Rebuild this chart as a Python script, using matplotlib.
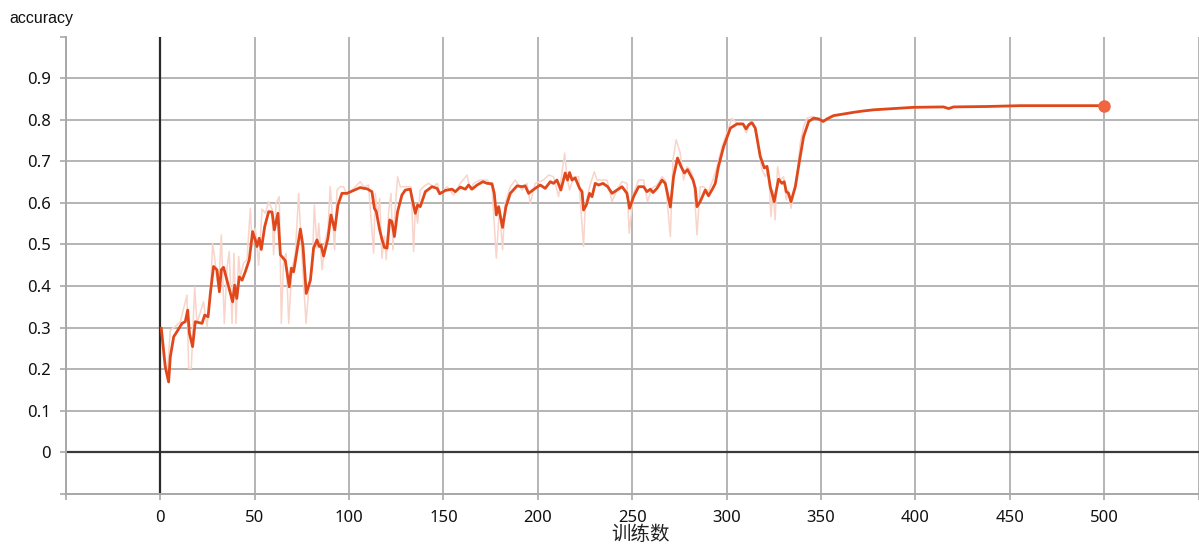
import matplotlib
matplotlib.use("Agg")
import matplotlib.pyplot as plt

# ---- data ----
smooth_steps = [0.5, 2.6, 4.4, 5.3, 7.1, 8.8, 11.5, 13.2, 14.5, 15.4, 17.1, 18.5, 22.1, 23.5, 25.3,
                26.5, 28.2, 30.0, 31.3, 32.3, 33.5, 36.2, 38.3, 39.4, 40.5, 41.8, 43.3, 45.0, 47.1,
                48.9, 50.3, 51.2, 52.4, 53.5, 55.3, 57.4, 59.2, 60.4, 62.3, 63.6, 66.2, 68.3, 69.4,
                70.6, 71.5, 74.2, 75.6, 77.3, 79.5, 81.2, 83.0, 84.2, 85.1, 86.5, 88.8, 90.4, 92.4,
                94.1, 96.2, 98.9, 102.4, 105.9, 107.7, 109.5, 112.1, 113.4, 114.4, 116.2, 117.5,
                118.7, 120.1, 121.5, 122.7, 124.0, 125.7, 128.0, 129.8, 132.4, 133.9, 135.1, 136.3,
                137.7, 140.4, 143.9, 146.6, 148.0, 151.0, 154.5, 156.3, 158.9, 161.6, 163.3, 165.1,
                167.8, 170.9, 173.1, 175.7, 176.9, 178.0, 179.2, 181.3, 183.1, 185.4, 189.0, 191.6,
                193.3, 195.1, 198.6, 201.3, 203.9, 206.6, 208.3, 210.1, 212.2, 214.5, 215.7, 216.8,
                218.1, 219.8, 222.1, 223.4, 224.2, 225.7, 227.4, 228.7, 230.4, 232.2, 234.5, 237.0,
                239.3, 241.9, 244.6, 247.2, 248.6, 250.7, 253.4, 256.0, 257.8, 259.6, 261.0, 263.1,
                265.8, 267.5, 270.2, 271.9, 274.0, 275.8, 277.6, 279.3, 282.2, 283.4, 284.3, 286.0,
                288.7, 290.4, 292.7, 294.0, 295.7, 298.4, 302.0, 305.5, 308.7, 310.3, 311.7, 313.4,
                315.2, 317.8, 320.0, 321.4, 323.1, 325.2, 327.5, 329.3, 330.5, 331.6, 332.8, 334.1,
                336.4, 338.7, 340.8, 343.5, 346.1, 348.8, 351.1, 353.2, 356.7, 362.0, 367.3, 372.0,
                377.8, 384.9, 399.0, 414.9, 417.6, 420.2, 437.9, 455.6, 473.2, 500.0]
smooth_acc = [0.298, 0.206, 0.169, 0.230, 0.278, 0.290, 0.310, 0.314, 0.342, 0.286, 0.254, 0.314, 0.310, 0.330, 0.326,
              0.382, 0.447, 0.439, 0.386, 0.439, 0.445, 0.398, 0.362, 0.402, 0.370, 0.422, 0.414, 0.434, 0.463,
              0.531, 0.511, 0.495, 0.515, 0.488, 0.543, 0.579, 0.578, 0.535, 0.575, 0.475, 0.461, 0.398, 0.443,
              0.434, 0.459, 0.537, 0.495, 0.382, 0.414, 0.491, 0.511, 0.495, 0.499, 0.472, 0.515, 0.571, 0.535,
              0.595, 0.623, 0.623, 0.630, 0.637, 0.635, 0.634, 0.627, 0.587, 0.579, 0.535, 0.511,
              0.493, 0.491, 0.559, 0.555, 0.519, 0.579, 0.619, 0.631, 0.633, 0.599, 0.575, 0.595,
              0.591, 0.627, 0.639, 0.635, 0.622, 0.630, 0.633, 0.627, 0.638, 0.633, 0.643, 0.633,
              0.643, 0.651, 0.647, 0.646, 0.623, 0.571, 0.591, 0.541, 0.591, 0.623, 0.641, 0.639,
              0.641, 0.623, 0.635, 0.643, 0.635, 0.651, 0.647, 0.655, 0.631, 0.672, 0.655, 0.673,
              0.655, 0.660, 0.635, 0.627, 0.583, 0.595, 0.623, 0.615, 0.647, 0.643, 0.647, 0.639,
              0.623, 0.631, 0.639, 0.623, 0.587, 0.615, 0.639, 0.639, 0.627, 0.633, 0.625, 0.635,
              0.655, 0.647, 0.590, 0.663, 0.708, 0.688, 0.672, 0.680, 0.655, 0.635, 0.591, 0.603,
              0.631, 0.617, 0.635, 0.647, 0.688, 0.735, 0.780, 0.790, 0.790, 0.778, 0.788, 0.793,
              0.780, 0.712, 0.684, 0.688, 0.639, 0.603, 0.657, 0.647, 0.651, 0.627, 0.623, 0.603,
              0.639, 0.704, 0.760, 0.796, 0.804, 0.802, 0.796, 0.802, 0.810, 0.814, 0.818, 0.821,
              0.824, 0.826, 0.830, 0.831, 0.827, 0.831, 0.832, 0.834, 0.834, 0.834]

raw_steps = [0.9, 3.5, 5.3, 7.9, 10.6, 14.1, 15.0, 16.4, 18.2, 19.4, 22.9, 24.7, 26.5, 27.7, 28.8, 30.0,
             30.9, 32.3, 33.9, 35.3, 36.5, 38.0, 39.0, 40.1, 41.5, 42.4, 44.1, 45.9, 47.7, 48.6, 50.3,
             52.1, 53.9, 55.6, 57.4, 59.2, 60.0, 61.3, 63.0, 64.1, 65.3, 66.6, 68.0, 69.7, 71.5, 73.3,
             74.7, 75.9, 77.2, 78.6, 80.4, 81.6, 83.0, 83.9, 85.7, 87.4, 88.8, 90.0, 91.3, 92.3, 93.6,
             95.3, 97.1, 98.9, 102.4, 105.9, 107.7, 110.3, 113.0, 113.9, 115.1, 116.2, 117.4, 118.7,
             119.7, 120.9, 122.2, 123.2, 124.5, 125.7, 127.1, 130.7, 132.8, 134.2, 135.1, 136.3, 137.7,
             139.5, 142.1, 144.8, 146.6, 148.3, 151.9, 155.4, 158.9, 162.5, 164.2, 166.0, 169.1, 173.1,
             175.7, 178.0, 179.7, 181.3, 182.7, 185.4, 188.0, 191.6, 194.2, 196.0, 198.6, 203.0, 205.7,
             208.3, 211.0, 214.2, 215.4, 216.8, 218.9, 221.6, 224.2, 225.1, 227.4, 229.9, 231.3, 234.0,
             236.6, 239.3, 242.3, 244.6, 247.2, 248.4, 250.7, 253.4, 256.0, 258.1, 260.4, 263.1, 265.8,
             267.5, 270.2, 271.6, 273.3, 275.4, 277.2, 279.0, 280.7, 282.5, 284.3, 286.0, 287.8, 290.4,
             292.7, 294.9, 297.5, 300.2, 302.8, 305.5, 308.2, 310.5, 312.5, 314.3, 316.4, 318.7, 320.5,
             322.2, 323.5, 324.5, 325.7, 327.0, 328.4, 330.2, 331.6, 332.8, 334.1, 335.8, 337.6, 339.0,
             340.8, 342.6, 345.2, 347.9, 350.5, 353.2, 356.7, 362.0, 367.3, 372.0, 377.8, 384.9, 399.0,
             414.9, 417.6, 420.2, 437.9, 455.6, 473.2, 500.0]
raw_acc = [0.294, 0.178, 0.294, 0.302, 0.314, 0.378, 0.202, 0.202, 0.398, 0.310, 0.362, 0.302, 0.378, 0.503, 0.467, 0.414,
           0.398, 0.523, 0.310, 0.443, 0.483, 0.310, 0.479, 0.310, 0.471, 0.422, 0.455, 0.463, 0.587, 0.495, 0.539,
           0.450, 0.585, 0.575, 0.603, 0.585, 0.475, 0.599, 0.615, 0.310, 0.463, 0.479, 0.310, 0.439, 0.479, 0.623,
           0.495, 0.406, 0.310, 0.390, 0.439, 0.595, 0.491, 0.551, 0.439, 0.511, 0.535, 0.639, 0.559, 0.487, 0.631,
           0.639, 0.639, 0.619, 0.635, 0.651, 0.639, 0.643, 0.479, 0.623, 0.567, 0.611, 0.467, 0.519,
           0.463, 0.575, 0.623, 0.487, 0.591, 0.663, 0.639, 0.639, 0.639, 0.483, 0.591, 0.551, 0.631,
           0.639, 0.647, 0.639, 0.647, 0.623, 0.639, 0.619, 0.647, 0.667, 0.631, 0.647, 0.655, 0.655,
           0.639, 0.467, 0.591, 0.487, 0.599, 0.639, 0.655, 0.631, 0.647, 0.599, 0.647, 0.655, 0.667,
           0.663, 0.615, 0.720, 0.663, 0.631, 0.663, 0.663, 0.495, 0.591, 0.639, 0.675, 0.655, 0.655,
           0.655, 0.603, 0.635, 0.651, 0.647, 0.527, 0.623, 0.655, 0.655, 0.603, 0.635, 0.643, 0.663,
           0.655, 0.519, 0.704, 0.752, 0.720, 0.655, 0.687, 0.680, 0.659, 0.523, 0.639, 0.639, 0.627,
           0.655, 0.687, 0.735, 0.770, 0.804, 0.792, 0.792, 0.768, 0.796, 0.792, 0.744, 0.680, 0.663,
           0.680, 0.567, 0.631, 0.559, 0.687, 0.655, 0.663, 0.607, 0.631, 0.587, 0.631, 0.680, 0.744,
           0.784, 0.804, 0.808, 0.804, 0.796, 0.804, 0.812, 0.814, 0.818, 0.821, 0.824, 0.826, 0.830,
           0.831, 0.827, 0.831, 0.832, 0.834, 0.834, 0.834]

x_ticks = [-50, 0, 50, 100, 150, 200, 250, 300, 350, 400, 450, 500, 550]
x_tick_labels = ["", "0", "50", "100", "150", "200", "250", "300", "350", "400", "450", "500", ""]
y_ticks = [-0.1, 0, 0.1, 0.2, 0.3, 0.4, 0.5, 0.6, 0.7, 0.8, 0.9, 1.0]
y_tick_labels = ["", "0", "0.1", "0.2", "0.3", "0.4", "0.5", "0.6", "0.7", "0.8", "0.9", ""]
y_title = "accuracy"
x_title = "训练数"

# ---- figure ----
plt.rcParams['font.family'] = ['Noto Sans', 'DejaVu Sans']
fig = plt.figure(figsize=(11.99, 5.47), dpi=100)
ax = fig.add_axes([0.055, 0.0974, 0.9446, 0.8355])

ax.set_xlim(-50, 550)
ax.set_ylim(-0.1, 1.0)
ax.set_xticks(x_ticks)
ax.set_xticklabels(x_tick_labels)
ax.set_yticks(y_ticks)
ax.set_yticklabels(y_tick_labels)

ax.grid(True, color='#b4b4b4', linewidth=1.4)
ax.set_axisbelow(True)
# no horizontal grid line along the top edge
ax.yaxis.get_gridlines()[-1].set_visible(False)
ax.axhline(0, color='#3a3a3a', linewidth=1.6, zorder=1.5)
ax.axvline(0, color='#2a2a2a', linewidth=1.6, zorder=1.5)

for s in ['top', 'right']:
    ax.spines[s].set_visible(False)
for s in ['left', 'bottom']:
    ax.spines[s].set_color('#a8a8a8')
    ax.spines[s].set_linewidth(1.4)

ax.tick_params(axis='both', colors='#a8a8a8', length=4, width=1.2, labelcolor='#111111', labelsize=12)
ax.tick_params(axis='x', pad=8)
ax.tick_params(axis='y', pad=7)

ax.plot(raw_steps, raw_acc, color='#f8d4ca', linewidth=1.1, zorder=2)
ax.plot(smooth_steps, smooth_acc, color='#e0481b', linewidth=2.0, zorder=3)
ax.plot([smooth_steps[-1]], [smooth_acc[-1]], 'o', color='#ef6641', markersize=8, zorder=4)

fig.text(0.008, 0.967, y_title, fontsize=11.5, color='#111111', family=['Liberation Sans', 'DejaVu Sans'],
         ha='left', va='center')
fig.text(0.534, 0.022, x_title, fontsize=14, color='#222222', family=['Noto Sans CJK SC', 'DejaVu Sans'],
         ha='center', va='center')

fig.savefig('out.png', dpi=100)
